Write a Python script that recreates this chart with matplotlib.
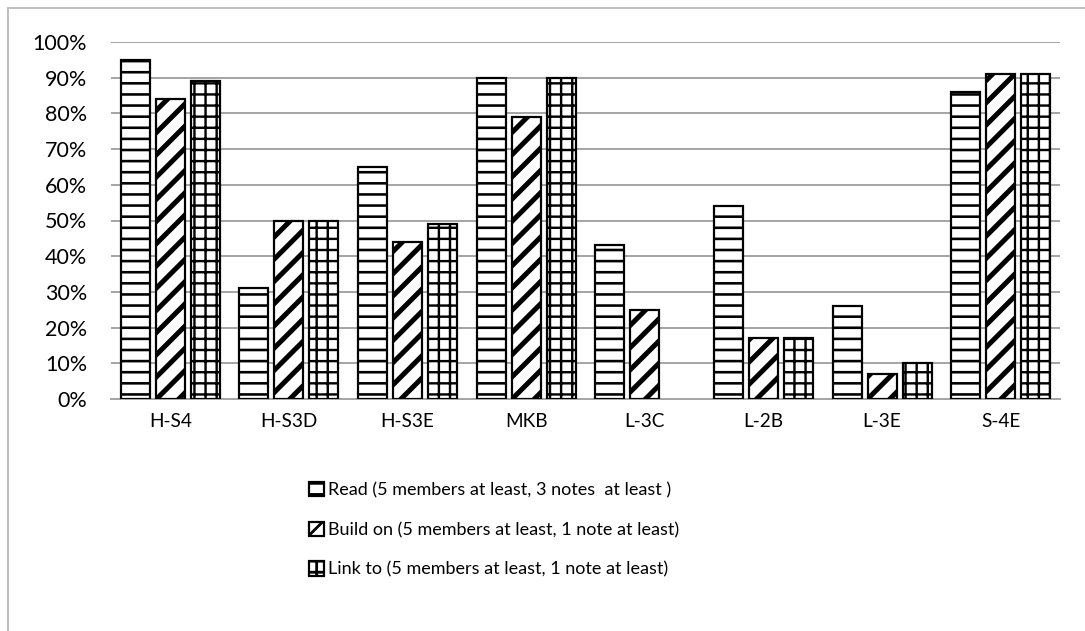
import numpy as np
import matplotlib
matplotlib.use("Agg")
import matplotlib.pyplot as plt
from matplotlib.patches import Rectangle

# data
groups = ["H-S4", "H-S3D", "H-S3E", "MKB", "L-3C", "L-2B", "L-3E", "S-4E"]
read_vals = [0.95, 0.31, 0.65, 0.90, 0.43, 0.54, 0.26, 0.86]
build_vals = [0.84, 0.50, 0.44, 0.79, 0.25, 0.17, 0.07, 0.91]
link_vals = [0.89, 0.50, 0.49, 0.90, 0.00, 0.17, 0.10, 0.91]
series_labels = [
    "Read (5 members at least, 3 notes  at least )",
    "Build on (5 members at least, 1 note at least)",
    "Link to (5 members at least, 1 note at least)",
]
yticks = np.arange(0, 1.01, 0.1)

plt.rcParams["font.family"] = ["Lato", "DejaVu Sans"]

DPI = 200
W, H = 1085, 631
fig = plt.figure(figsize=(W / DPI, H / DPI), dpi=DPI)

def px(p):
    # pixels -> points at this dpi
    return p * 72.0 / DPI

ax = fig.add_axes([111 / W, 1 - 399 / H, 949 / W, 357 / H])

x = np.arange(len(groups))
off = 0.295
width = 0.245
styles = [("---", px(2.6)), ("///", px(5.0)), ("+++", px(2.4))]

handles = []
for k, (vals, lab) in enumerate(zip([read_vals, build_vals, link_vals], series_labels)):
    hatch, hlw = styles[k]
    bars = ax.bar(x + (k - 1) * off, vals, width, facecolor="white",
                  edgecolor="black", linewidth=px(2.2), hatch=hatch, label=lab,
                  zorder=3)
    for b, v in zip(bars, vals):
        if hasattr(b, "set_hatch_linewidth"):
            b.set_hatch_linewidth(hlw)
        if v == 0:
            b.set_visible(False)
    handles.append(bars)

ax.set_xlim(-0.5, len(groups) - 0.5)
ax.set_ylim(0, 1)
ax.set_yticks(yticks)
ax.set_yticklabels([f"{int(round(v * 100))}%" for v in yticks])
ax.set_xticks(x)
ax.set_xticklabels(groups)
ax.tick_params(axis="both", length=0, colors="black")
ax.tick_params(axis="y", labelsize=px(21.5), pad=px(24))
ax.tick_params(axis="x", labelsize=px(19), pad=px(14))
ax.yaxis.grid(True, color="#a6a6a6", linewidth=px(2), zorder=0)
ax.set_axisbelow(True)
for s in ["left", "right", "top"]:
    ax.spines[s].set_visible(False)
ax.spines["bottom"].set_color("#a6a6a6")
ax.spines["bottom"].set_linewidth(px(2))

leg = fig.legend(handles=handles, labels=series_labels, loc="upper left",
                 bbox_to_anchor=(302 / W, 1 - 475 / H), frameon=False,
                 fontsize=px(18), handlelength=0.82, handleheight=0.82,
                 handletextpad=0.25, labelspacing=1.3, borderaxespad=0)

# outer chart border
fig.add_artist(Rectangle((8 / W, -0.1), 1.2, (1 - 8 / H) + 0.1,
                         transform=fig.transFigure, fill=False,
                         edgecolor="#bfbfbf", linewidth=px(2)))

fig.savefig("out.png", dpi=DPI)
